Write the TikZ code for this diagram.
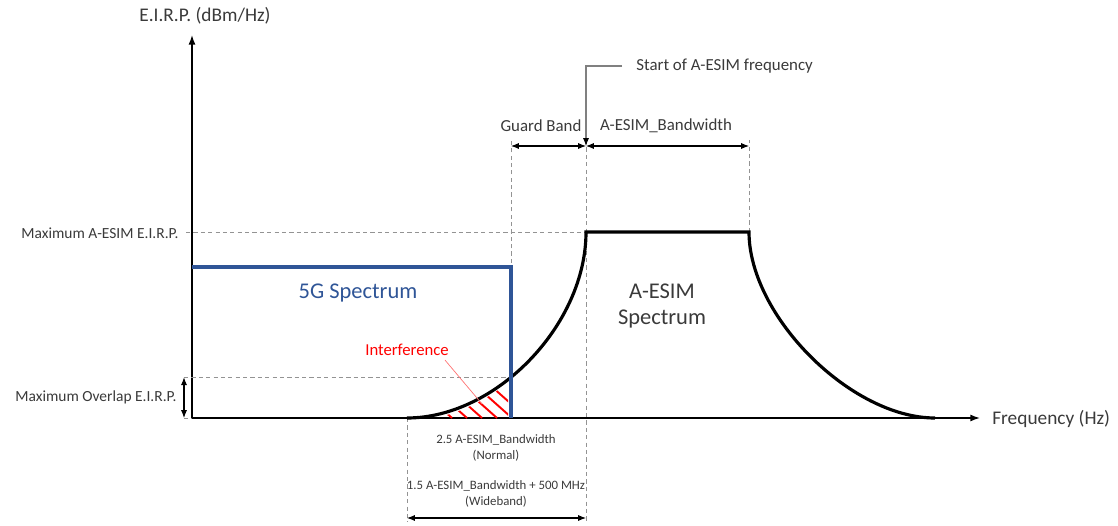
\documentclass[tikz,border=0pt]{standalone}
\usepackage{fontspec}
\setmainfont{Carlito}
\usetikzlibrary{arrows.meta,intersections}
\definecolor{nrblue}{HTML}{2F5597}
\definecolor{txtgray}{HTML}{3A3A3A}
\tikzset{guide/.style={draw=gray!85,line width=0.5pt,dash pattern=on 2.4pt off 1.8pt}}
\tikzset{txt/.style={text=txtgray,inner sep=0pt}}

\begin{document}
\begin{tikzpicture}[x=0.02cm,y=-0.02cm,>={Latex[length=5.5pt,width=4pt]},
    % styles for clarity
    axisline/.style ={draw=black,line width=0.8pt},
    esimline/.style ={draw=black,line width=1.8pt},
    nrline/.style   ={draw=nrblue,line width=1.9pt},
    dimarrow/.style ={<->,line width=0.6pt,>={Latex[length=4.5pt,width=3.5pt]}},
    leader/.style   ={draw=gray,line width=0.6pt,>={Latex[length=4.5pt,width=3.5pt,color=black]}},
    hatchline/.style={draw=red,line width=1.1pt},
    bigtxt/.style   ={txt,font=\fontsize{11}{13}\selectfont},
    midtxt/.style   ={txt,font=\fontsize{9.6}{11.5}\selectfont},
    sidetxt/.style  ={txt,font=\fontsize{8.8}{10.5}\selectfont},
    smalltxt/.style ={txt,font=\fontsize{7.3}{9}\selectfont,align=center},
    spectxt/.style  ={txt,font=\fontsize{12.8}{15.3}\selectfont,align=center}
  ]
    \useasboundingbox (0,0) rectangle (1118,526);

    % key points
    \coordinate (O) at (192,418);
    \coordinate (ytip) at (192,35);
    \coordinate (xtip) at (980,418);
    \coordinate (fs) at (407,418);
    \coordinate (f0) at (586,232);
    \coordinate (f1) at (749,232);
    \coordinate (fe) at (935,418);
    \coordinate (nrtl) at (192,267);
    \coordinate (nrtr) at (511,267);
    \coordinate (nrbr) at (511,418);
    \coordinate (ovl) at (184,418);
    \coordinate (maxl) at (186,232);
    \coordinate (gtop) at (0,140);
    \coordinate (dimy) at (0,146);
    \coordinate (wbot) at (0,518);
    \coordinate (gbot) at (0,522);

    % guide lines (under everything)
    \draw[guide] (maxl) -- (f0);
    \draw[guide] (ovl) -- (fs);
    \draw[guide] (nrbr) -- (nrbr |- gtop);
    \draw[guide] (f0 |- gtop) -- (f0 |- gbot);
    \draw[guide] (f1) -- (f1 |- gtop);
    \draw[guide] (fs) -- (fs |- gbot);

    % axes
    \draw[axisline,->] (O) -- (ytip);
    \draw[axisline,->] (O) -- (xtip);
    \node[bigtxt] (ylab) at (205,16) {E.I.R.P. (dBm/Hz)};
    \node[bigtxt,anchor=west] (xlab) at (992,419) {Frequency (Hz)};

    % hatched interference
    \begin{scope}
      \clip (438,360) rectangle (508,418);
      \clip (407,421) .. controls (496,421) and (586,328) .. (586,235) -- (586,421) -- cycle;
      \foreach \x in {452,467,...,527}
        \draw[hatchline] (\x,418) -- ++(-45,-40);
    \end{scope}

    % A-ESIM mask
    \draw[esimline, name path=skirt] (fs) .. controls (496,418) and (586,325) .. (f0)
      -- (f1) .. controls (749,316) and (851,418) .. (fe);
    \node[spectxt] (esimlab) at (662,306) {A-ESIM\\Spectrum};

    % 5G spectrum
    \path[name path=nredge] (nrtr) -- (nrbr);
    \path[name intersections={of=skirt and nredge,by=ov}];
    \draw[guide] (ovl |- ov) -- (ov);
    \draw[nrline] (nrtl) -- (nrtr) -- (nrbr);
    \node[spectxt,text=nrblue] (nrlab) at (358,293) {5G Spectrum};

    % levels
    \node[sidetxt,anchor=east] (maxlab) at (179,233) {Maximum A-ESIM E.I.R.P.};
    \node[sidetxt,anchor=east] (ovlab) at (177,397) {Maximum Overlap E.I.R.P.};
    \draw[dimarrow] (ovl |- ov) -- (ovl);

    % bands
    \draw[dimarrow] (nrbr |- dimy) -- (f0 |- dimy);
    \draw[dimarrow] (f0 |- dimy) -- (f1 |- dimy);
    \node[midtxt] (gblab) at (541,126) {Guard Band};
    \node[midtxt] (bwlab) at (666,126) {A-ESIM\_Bandwidth};
    \node[midtxt,anchor=west] (startlab) at (636,66) {Start of A-ESIM frequency};
    \draw[leader,->,shorten <=0.28cm] (startlab.west) -- (startlab.west -| f0) -- (f0 |- dimy);

    % interference
    \node[txt,text=red,font=\fontsize{9.5}{11}\selectfont] (intlab) at (407,350) {Interference};
    \coordinate (intpt) at (482,404);
    \draw[red!55,line width=0.4pt] (intlab.south east) ++(-4,4) -- (intpt);

    % skirt width
    \node[smalltxt] (normlab) at (496,448) {2.5 A-ESIM\_Bandwidth\\(Normal)};
    \node[smalltxt] (widelab) at (496,494) {1.5 A-ESIM\_Bandwidth + 500 MHz\\(Wideband)};
    \draw[dimarrow] (fs |- wbot) -- (f0 |- wbot);
  \end{tikzpicture}
\end{document}
